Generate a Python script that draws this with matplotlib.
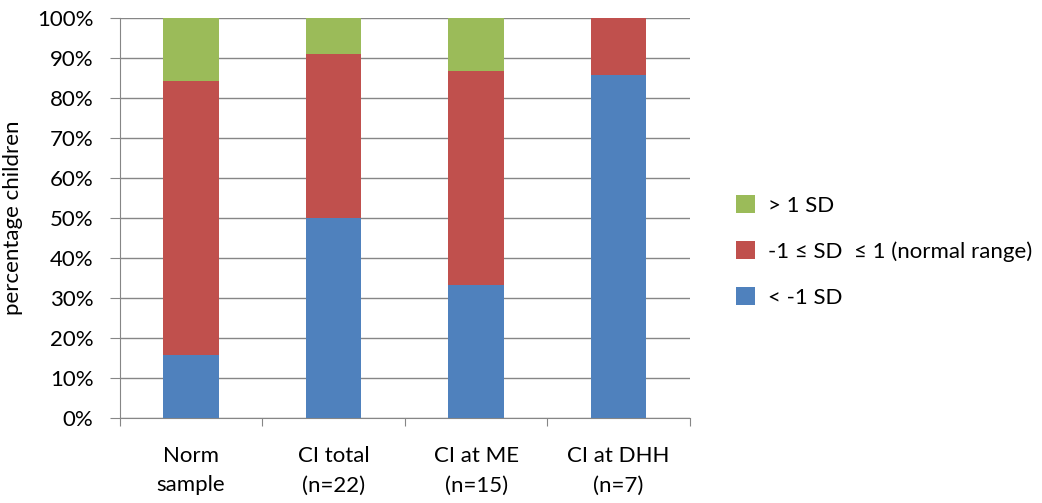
import numpy as np
import matplotlib
matplotlib.use('Agg')
import matplotlib.pyplot as plt
from matplotlib.ticker import PercentFormatter

# Share of children per SD band, in percent
categories = ['Norm\nsample', 'CI total\n(n=22)', 'CI at ME\n(n=15)', 'CI at DHH\n(n=7)']
below = [15.8, 50.0, 33.3, 85.7]
normal = [68.4, 40.9, 53.4, 14.3]
above = [15.8, 9.1, 13.3, 0.0]

BLUE = '#4F81BD'
RED = '#C0504D'
GREEN = '#9BBB59'
GRID = '#868686'

plt.rcParams['font.family'] = ['Lato', 'DejaVu Sans']
plt.rcParams['font.size'] = 16

fig = plt.figure(figsize=(10.42, 5.03), dpi=100)
ax = fig.add_axes([0.115, 0.169, 0.547, 0.795])

x = np.arange(len(categories))
width = 0.39
b1 = ax.bar(x, below, width, color=BLUE, label='< -1 SD', zorder=3)
b2 = ax.bar(x, normal, width, bottom=below, color=RED,
            label='-1 \u2264 SD  \u2264 1 (normal range)', zorder=3)
bottom2 = np.array(below) + np.array(normal)
b3 = ax.bar(x, above, width, bottom=bottom2, color=GREEN, label='> 1 SD', zorder=3)

ax.set_xlim(-0.5, len(categories) - 0.5)
ax.set_ylim(0, 100)
ax.set_yticks(np.arange(0, 101, 10))
ax.yaxis.set_major_formatter(PercentFormatter(decimals=0))
ax.yaxis.grid(True, color=GRID, linewidth=1.0, zorder=0)
ax.set_axisbelow(True)

# category labels sit between boundary ticks
ax.set_xticks(np.arange(-0.5, len(categories)), minor=False)
ax.set_xticklabels([])
ax.set_xticks(x, minor=True)
ax.set_xticklabels(categories, minor=True, linespacing=1.6)
ax.tick_params(axis='x', which='minor', length=0, pad=20)
ax.tick_params(axis='x', which='major', length=6, color=GRID, direction='out')
ax.tick_params(axis='y', length=7, color=GRID, direction='out', pad=12)

for side in ['top', 'right']:
    ax.spines[side].set_visible(False)
for side in ['left', 'bottom']:
    ax.spines[side].set_color(GRID)

ax.set_ylabel('percentage children', labelpad=10)

handles = [b3, b2, b1]
fig.legend(handles, [h.get_label() for h in handles], loc='center left',
           bbox_to_anchor=(0.698, 0.5), frameon=False, handlelength=0.85,
           handleheight=0.85, labelspacing=1.15, handletextpad=0.6,
           borderaxespad=0)

fig.savefig('out.png', dpi=100)
